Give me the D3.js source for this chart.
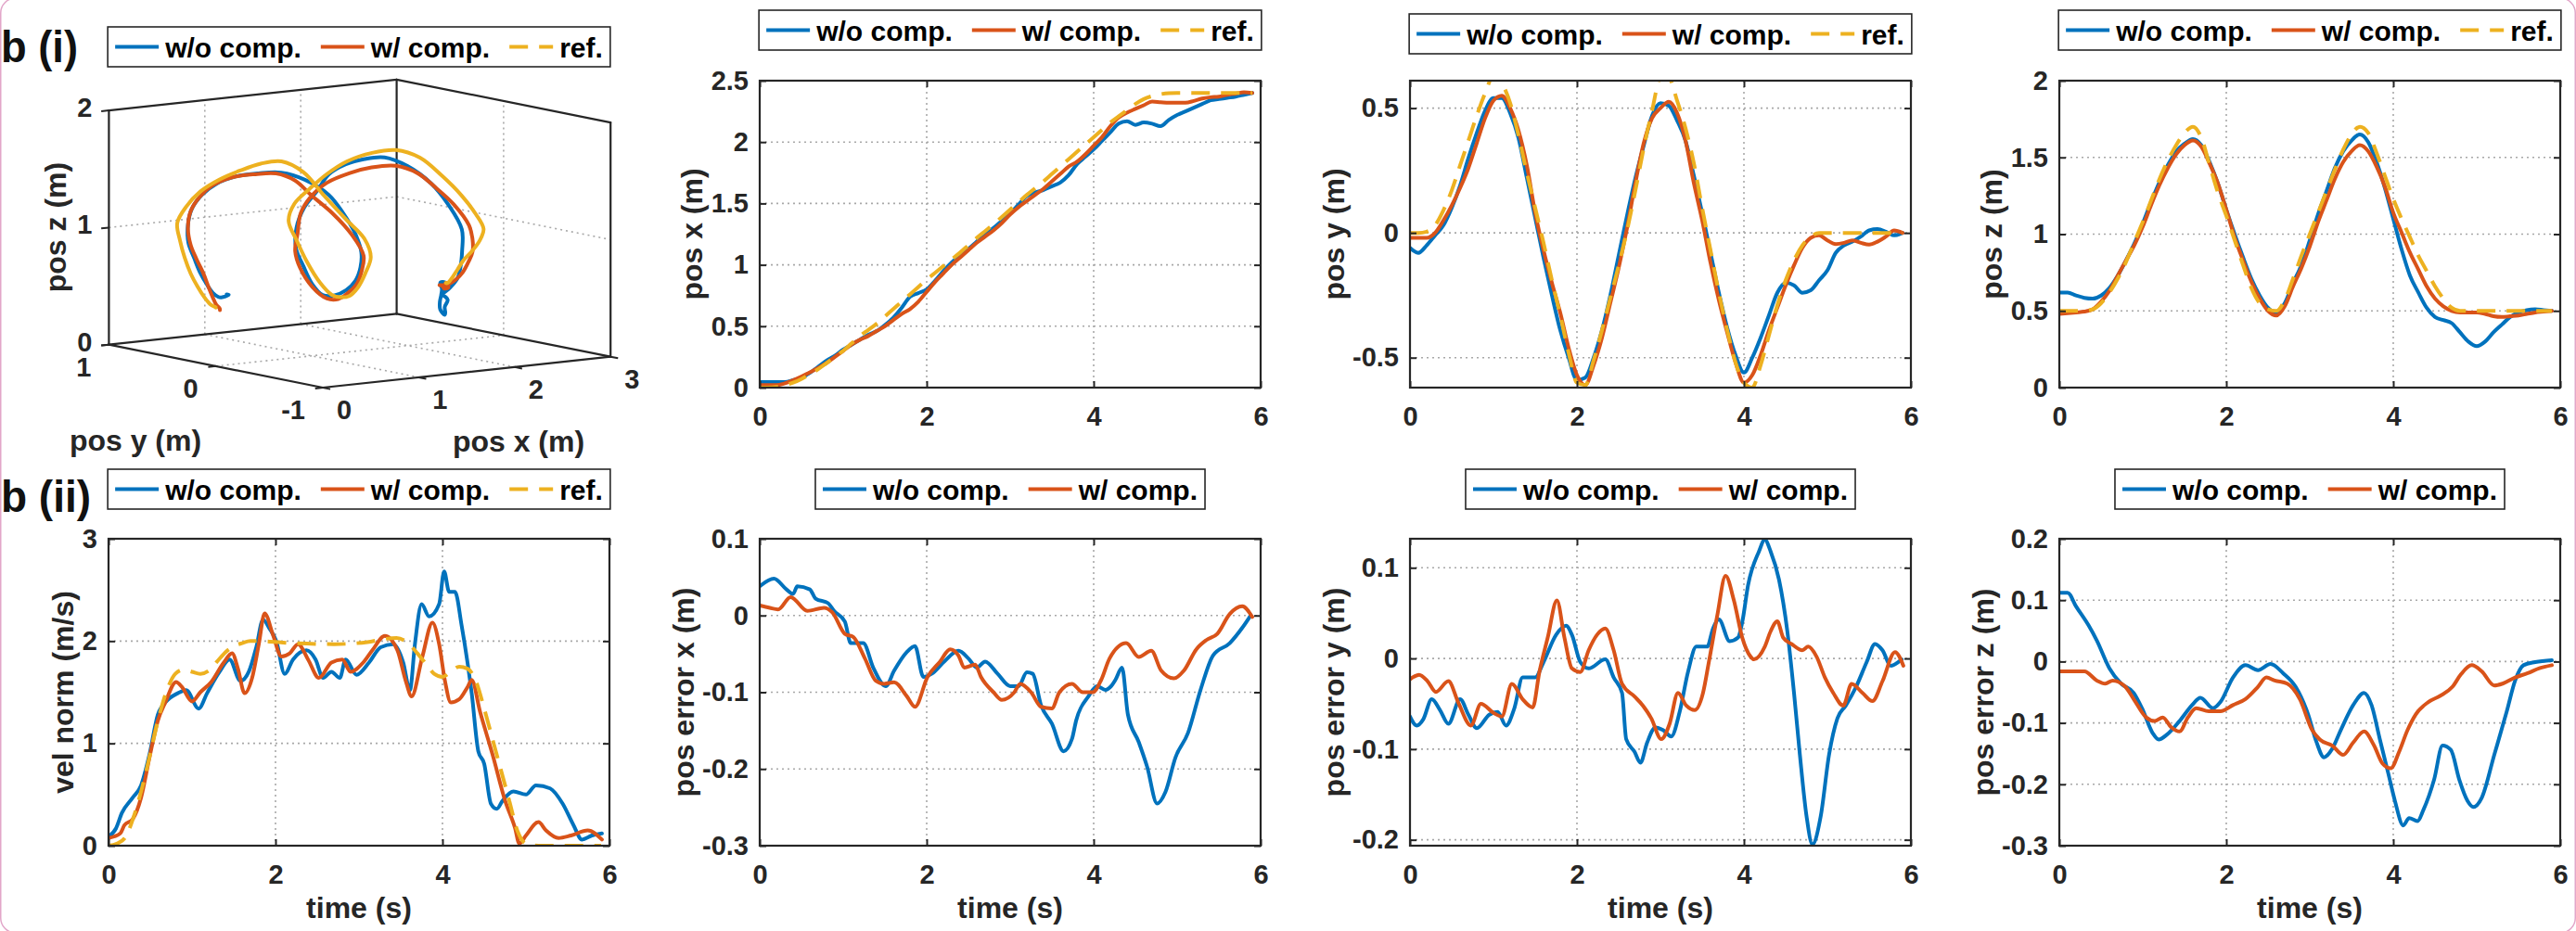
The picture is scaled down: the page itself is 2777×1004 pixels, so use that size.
<!DOCTYPE html>
<html>
<head>
<meta charset="utf-8">
<script src="https://cdn.jsdelivr.net/npm/d3@7"></script>
<style>
  html, body { margin: 0; padding: 0; background: #ffffff; }
  svg { display: block; font-family: "Liberation Sans", Arial, Helvetica, sans-serif; font-weight: bold; }
</style>
</head>
<body>
<svg id="fig" width="2777" height="1004"></svg>
<script>
// ---------- shared time axis ----------
const timeTicks = [0, 2, 4, 6];
const timeTickLabels = ["0", "2", "4", "6"];
const timeGrid = [0,0.1,0.2,0.3,0.4,0.5,0.6,0.7,0.8,0.9,1.0,1.1,1.2,1.3,1.4,1.5,1.6,1.7,1.8,1.9,
  2.0,2.1,2.2,2.3,2.4,2.5,2.6,2.7,2.8,2.9,3.0,3.1,3.2,3.3,3.4,3.5,3.6,3.7,3.8,3.9,
  4.0,4.1,4.2,4.3,4.4,4.5,4.6,4.7,4.8,4.9,5.0,5.1,5.2,5.3,5.4,5.5,5.6,5.7,5.8,5.9];

const seriesNames = ["w/o comp.", "w/ comp.", "ref."];

// ---------- position x (m) ----------
const posXRef = [0,0,0.005,0.02,0.04,0.07,0.11,0.15,0.2,0.25, 0.3,0.36,0.42,0.47,0.52,0.58,0.64,0.7,0.76,0.82,
  0.88,0.935,0.99,1.045,1.1,1.16,1.22,1.275,1.33,1.39, 1.45,1.51,1.57,1.625,1.68,1.74,1.8,1.86,1.92,1.98,
  2.04,2.1,2.16,2.21,2.26,2.31,2.35,2.375,2.39,2.398, 2.4,2.4,2.4,2.4,2.4,2.4,2.4,2.4,2.4,2.4];
const posXComp = [0.02,0.02,0.02,0.035,0.06,0.09,0.125,0.16,0.2,0.25, 0.3,0.35,0.39,0.42,0.46,0.5,0.55,0.6,0.64,0.7,
  0.78,0.86,0.93,1.0,1.06,1.12,1.18,1.23,1.28,1.34, 1.41,1.47,1.52,1.57,1.62,1.68,1.74,1.8,1.84,1.9,
  1.97,2.04,2.13,2.2,2.24,2.27,2.3,2.33,2.325,2.32, 2.32,2.32,2.335,2.355,2.365,2.37,2.385,2.395,2.405,2.4];
const posXNoComp = [0.045,0.045,0.045,0.045,0.06,0.08,0.12,0.17,0.22,0.26, 0.31,0.35,0.39,0.43,0.46,0.51,0.57,0.65,0.74,0.77,
  0.8,0.87,0.95,1.02,1.08,1.13,1.19,1.25,1.3,1.36, 1.42,1.49,1.56,1.59,1.61,1.64,1.67,1.73,1.82,1.88,
  1.94,2.01,2.08,2.15,2.17,2.14,2.16,2.15,2.13,2.18, 2.22,2.25,2.28,2.31,2.34,2.35,2.36,2.37,2.385,2.4];

// ---------- position y (m) ----------
const posYRef = [0,0,0.005,0.03,0.09,0.17,0.27,0.37,0.47,0.56, 0.63,0.6,0.52,0.39,0.24,0.1,-0.04,-0.19,-0.33,-0.48,
  -0.6,-0.61,-0.51,-0.39,-0.26,-0.13,0.01,0.17,0.34,0.49, 0.62,0.62,0.53,0.42,0.28,0.1,-0.07,-0.24,-0.39,-0.52,
  -0.6,-0.62,-0.53,-0.41,-0.29,-0.19,-0.11,-0.05,-0.015,0, 0,0,0,0,0,0,0,0,0,0];
const posYComp = [-0.02,-0.02,-0.02,0.0,0.05,0.11,0.18,0.26,0.36,0.46, 0.53,0.55,0.5,0.41,0.27,0.08,-0.07,-0.2,-0.32,-0.46,
  -0.57,-0.61,-0.53,-0.42,-0.28,-0.14,0.02,0.2,0.36,0.46, 0.5,0.525,0.48,0.37,0.2,0.05,-0.12,-0.27,-0.4,-0.52,
  -0.6,-0.57,-0.49,-0.39,-0.3,-0.21,-0.13,-0.06,-0.02,-0.01, -0.03,-0.045,-0.04,-0.03,-0.04,-0.047,-0.035,-0.015,0.01,0];
const posYNoComp = [-0.06,-0.08,-0.05,-0.01,0.03,0.1,0.19,0.3,0.4,0.49, 0.54,0.54,0.48,0.38,0.22,0.06,-0.1,-0.25,-0.39,-0.5,
  -0.59,-0.58,-0.5,-0.39,-0.25,-0.09,0.07,0.22,0.35,0.47, 0.52,0.51,0.45,0.37,0.23,0.08,-0.08,-0.24,-0.38,-0.49,
  -0.56,-0.5,-0.42,-0.33,-0.24,-0.2,-0.21,-0.24,-0.23,-0.19, -0.15,-0.08,-0.05,-0.035,-0.015,0.01,0.015,0.005,-0.01,0];

// ---------- position z (m) ----------
const posZRef = [0.5,0.5,0.5,0.5,0.51,0.55,0.62,0.71,0.82,0.95, 1.08,1.22,1.36,1.48,1.58,1.66,1.7,1.63,1.45,1.27,
  1.12,0.96,0.8,0.65,0.55,0.51,0.5,0.57,0.71,0.86, 1.0,1.14,1.28,1.42,1.55,1.65,1.7,1.66,1.53,1.38,
  1.23,1.1,0.98,0.86,0.76,0.66,0.58,0.52,0.5,0.5, 0.5,0.5,0.5,0.5,0.5,0.5,0.5,0.5,0.5,0.5];
const posZComp = [0.48,0.485,0.49,0.495,0.51,0.56,0.63,0.73,0.83,0.93, 1.05,1.19,1.32,1.43,1.52,1.58,1.61,1.57,1.46,1.33,
  1.16,0.98,0.83,0.69,0.58,0.5,0.47,0.53,0.66,0.78, 0.92,1.08,1.22,1.36,1.47,1.54,1.58,1.54,1.44,1.31,
  1.14,1.01,0.88,0.77,0.66,0.58,0.53,0.5,0.49,0.49, 0.49,0.48,0.465,0.46,0.465,0.47,0.48,0.49,0.495,0.5];
const posZNoComp = [0.62,0.62,0.6,0.585,0.58,0.6,0.65,0.73,0.83,0.94, 1.07,1.21,1.34,1.45,1.54,1.59,1.62,1.58,1.47,1.33,
  1.16,1.0,0.85,0.71,0.6,0.52,0.49,0.55,0.68,0.8, 0.96,1.13,1.28,1.43,1.54,1.61,1.65,1.6,1.47,1.3,
  1.1,0.9,0.73,0.62,0.52,0.46,0.44,0.42,0.36,0.3, 0.27,0.3,0.36,0.41,0.46,0.49,0.505,0.51,0.505,0.5];

// ---------- velocity norm (m/s): [time, value] ----------
const velRef = [[0,0],[0.1,0.02],[0.2,0.08],[0.3,0.28],[0.4,0.56],[0.5,0.9],[0.6,1.25],[0.7,1.52],[0.8,1.68],[0.9,1.72],
  [1.0,1.7],[1.1,1.68],[1.2,1.71],[1.3,1.8],[1.4,1.89],[1.5,1.95],[1.6,1.98],[1.7,2.0],[1.8,2.0],[2.2,1.98],[2.7,1.97],
  [3.1,1.99],[3.3,2.02],[3.45,2.03],[3.6,1.97],[3.7,1.88],[3.8,1.78],[3.9,1.68],[4.0,1.65],[4.1,1.7],[4.2,1.75],[4.3,1.73],
  [4.4,1.61],[4.5,1.34],[4.6,1.04],[4.7,0.74],[4.8,0.44],[4.9,0.14],[5.0,0.02],[5.15,0],[5.9,0]];
const velComp = [[0,0.075],[0.14,0.12],[0.19,0.2],[0.29,0.26],[0.39,0.47],[0.49,0.86],[0.59,1.22],[0.68,1.4],[0.81,1.6],
  [0.88,1.55],[1.0,1.41],[1.1,1.5],[1.23,1.6],[1.38,1.79],[1.48,1.88],[1.55,1.73],[1.63,1.49],[1.72,1.64],[1.8,1.97],
  [1.87,2.27],[1.97,2.06],[2.07,1.85],[2.17,1.88],[2.27,1.97],[2.39,1.82],[2.52,1.64],[2.67,1.79],[2.8,1.82],[2.9,1.7],
  [3.05,1.79],[3.16,1.91],[3.31,2.05],[3.46,1.91],[3.56,1.61],[3.63,1.46],[3.76,1.85],[3.88,2.18],[3.96,1.97],[4.03,1.61],
  [4.1,1.4],[4.2,1.43],[4.3,1.55],[4.35,1.62],[4.45,1.31],[4.6,0.89],[4.75,0.44],[4.87,0.17],[4.92,0.02],[5.0,0.1],
  [5.15,0.23],[5.24,0.15],[5.39,0.075],[5.54,0.1],[5.74,0.15],[5.91,0.06]];
const velNoComp = [[0,0.09],[0.09,0.17],[0.16,0.32],[0.29,0.47],[0.39,0.59],[0.49,0.89],[0.59,1.28],[0.68,1.4],[0.83,1.49],
  [0.93,1.52],[1.08,1.34],[1.18,1.49],[1.33,1.7],[1.45,1.82],[1.58,1.61],[1.68,1.7],[1.77,1.94],[1.85,2.21],[1.93,2.12],
  [2.01,2.0],[2.11,1.68],[2.21,1.82],[2.37,1.91],[2.48,1.82],[2.57,1.64],[2.67,1.7],[2.77,1.64],[2.84,1.82],[2.97,1.67],
  [3.12,1.79],[3.26,1.94],[3.41,1.97],[3.53,1.79],[3.61,1.52],[3.67,1.97],[3.75,2.36],[3.84,2.24],[3.96,2.36],[4.02,2.68],
  [4.08,2.48],[4.15,2.48],[4.23,2.15],[4.3,1.79],[4.35,1.49],[4.43,0.92],[4.5,0.8],[4.58,0.41],[4.65,0.36],[4.72,0.44],
  [4.85,0.53],[5.0,0.5],[5.12,0.59],[5.29,0.56],[5.44,0.41],[5.57,0.2],[5.67,0.06],[5.79,0.1],[5.91,0.12]];

// ---------- position errors (m): [time, value] ----------
const errXNoComp = [[0,0.038],[0.17,0.048],[0.32,0.034],[0.4,0.028],[0.45,0.038],[0.6,0.034],[0.67,0.022],[0.82,0.016],
  [0.89,0.006],[1.02,-0.008],[1.09,-0.036],[1.24,-0.036],[1.36,-0.068],[1.51,-0.092],[1.61,-0.072],[1.76,-0.048],
  [1.86,-0.04],[1.96,-0.08],[2.06,-0.076],[2.21,-0.06],[2.38,-0.046],[2.5,-0.056],[2.6,-0.068],[2.7,-0.06],[2.85,-0.076],
  [3.0,-0.092],[3.1,-0.092],[3.2,-0.074],[3.27,-0.076],[3.37,-0.117],[3.5,-0.141],[3.64,-0.177],[3.74,-0.161],[3.79,-0.137],
  [3.94,-0.105],[4.04,-0.092],[4.14,-0.097],[4.21,-0.092],[4.26,-0.084],[4.34,-0.068],[4.41,-0.129],[4.54,-0.165],
  [4.64,-0.197],[4.76,-0.245],[4.86,-0.23],[4.98,-0.185],[5.13,-0.153],[5.28,-0.097],[5.43,-0.052],[5.63,-0.036],
  [5.78,-0.016],[5.88,0]];
const errXComp = [[0,0.013],[0.12,0.01],[0.22,0.008],[0.37,0.024],[0.57,0.006],[0.77,0.01],[0.87,0.004],[1.02,-0.024],
  [1.12,-0.028],[1.26,-0.056],[1.39,-0.085],[1.49,-0.089],[1.61,-0.087],[1.76,-0.105],[1.86,-0.119],[2.01,-0.08],
  [2.16,-0.06],[2.28,-0.044],[2.38,-0.052],[2.45,-0.068],[2.58,-0.064],[2.65,-0.08],[2.8,-0.1],[2.9,-0.11],[3.05,-0.1],
  [3.12,-0.089],[3.25,-0.1],[3.37,-0.119],[3.5,-0.121],[3.59,-0.1],[3.74,-0.089],[3.87,-0.1],[3.99,-0.1],[4.09,-0.084],
  [4.19,-0.056],[4.39,-0.036],[4.54,-0.054],[4.69,-0.046],[4.81,-0.072],[4.96,-0.082],[5.08,-0.072],[5.23,-0.044],
  [5.35,-0.032],[5.48,-0.024],[5.63,0.002],[5.78,0.012],[5.9,-0.002]];

const errYNoComp = [[0,-0.064],[0.08,-0.074],[0.16,-0.067],[0.26,-0.045],[0.36,-0.057],[0.46,-0.072],[0.6,-0.045],
  [0.7,-0.062],[0.8,-0.077],[0.95,-0.062],[1.05,-0.059],[1.15,-0.074],[1.25,-0.055],[1.35,-0.021],[1.5,-0.021],
  [1.6,-0.004],[1.75,0.026],[1.87,0.036],[1.94,0.026],[2.04,-0.004],[2.14,-0.011],[2.34,-0.001],[2.44,-0.021],
  [2.54,-0.038],[2.59,-0.089],[2.69,-0.103],[2.76,-0.115],[2.84,-0.093],[2.94,-0.076],[3.03,-0.079],[3.13,-0.086],
  [3.23,-0.059],[3.33,-0.015],[3.43,0.013],[3.56,0.013],[3.63,0.033],[3.7,0.043],[3.83,0.019],[3.93,0.023],[3.98,0.04],
  [4.05,0.081],[4.18,0.118],[4.25,0.131],[4.32,0.118],[4.42,0.087],[4.52,0.03],[4.6,-0.038],[4.67,-0.106],[4.75,-0.174],
  [4.82,-0.205],[4.92,-0.174],[5.02,-0.106],[5.12,-0.066],[5.22,-0.052],[5.34,-0.032],[5.47,-0.004],[5.57,0.016],
  [5.66,0.009],[5.76,-0.008],[5.89,-0.001]];
const errYComp = [[0,-0.023],[0.11,-0.018],[0.21,-0.025],[0.31,-0.037],[0.46,-0.025],[0.58,-0.049],[0.73,-0.074],
  [0.85,-0.05],[1.0,-0.06],[1.1,-0.064],[1.22,-0.028],[1.35,-0.045],[1.47,-0.054],[1.55,-0.015],[1.65,0.023],[1.76,0.064],
  [1.85,0.023],[1.94,-0.011],[2.04,-0.015],[2.14,0.009],[2.24,0.026],[2.34,0.033],[2.44,0.009],[2.54,-0.028],[2.69,-0.042],
  [2.79,-0.052],[2.89,-0.066],[3.01,-0.089],[3.11,-0.072],[3.21,-0.038],[3.31,-0.052],[3.41,-0.057],[3.51,-0.038],
  [3.58,-0.004],[3.68,0.047],[3.78,0.091],[3.88,0.064],[3.98,0.023],[4.08,0.002],[4.12,-0.001],[4.25,0.013],[4.32,0.03],
  [4.4,0.041],[4.47,0.023],[4.57,0.016],[4.7,0.009],[4.77,0.013],[4.87,0.002],[4.97,-0.021],[5.07,-0.038],[5.19,-0.052],
  [5.29,-0.028],[5.42,-0.038],[5.54,-0.047],[5.66,-0.025],[5.81,0.007],[5.91,-0.008]];

const errZNoComp = [[0,0.112],[0.1,0.112],[0.2,0.09],[0.35,0.059],[0.45,0.034],[0.6,-0.011],[0.74,-0.036],[0.89,-0.051],
  [0.99,-0.076],[1.12,-0.117],[1.19,-0.127],[1.29,-0.119],[1.44,-0.097],[1.59,-0.071],[1.69,-0.059],[1.84,-0.076],
  [1.93,-0.066],[2.08,-0.026],[2.23,-0.006],[2.38,-0.014],[2.53,-0.004],[2.68,-0.019],[2.83,-0.041],[2.98,-0.086],
  [3.08,-0.131],[3.17,-0.156],[3.27,-0.142],[3.37,-0.112],[3.52,-0.071],[3.65,-0.051],[3.74,-0.071],[3.84,-0.127],
  [3.94,-0.182],[4.02,-0.227],[4.12,-0.267],[4.19,-0.255],[4.29,-0.26],[4.36,-0.242],[4.49,-0.192],[4.59,-0.137],
  [4.69,-0.144],[4.79,-0.192],[4.89,-0.227],[4.96,-0.237],[5.06,-0.222],[5.21,-0.152],[5.36,-0.081],[5.46,-0.031],
  [5.56,-0.006],[5.7,-0.001],[5.9,0.002]];
const errZComp = [[0,-0.016],[0.15,-0.016],[0.3,-0.016],[0.45,-0.031],[0.55,-0.036],[0.64,-0.031],[0.79,-0.041],
  [0.89,-0.061],[1.04,-0.091],[1.14,-0.097],[1.24,-0.091],[1.34,-0.107],[1.44,-0.114],[1.54,-0.091],[1.64,-0.076],
  [1.79,-0.081],[1.93,-0.081],[2.08,-0.071],[2.23,-0.061],[2.38,-0.041],[2.48,-0.026],[2.58,-0.031],[2.73,-0.036],
  [2.88,-0.061],[3.03,-0.112],[3.12,-0.127],[3.27,-0.137],[3.4,-0.152],[3.52,-0.132],[3.65,-0.114],[3.77,-0.137],
  [3.87,-0.166],[3.97,-0.174],[4.07,-0.147],[4.17,-0.112],[4.27,-0.086],[4.42,-0.066],[4.56,-0.056],[4.71,-0.041],
  [4.81,-0.021],[4.94,-0.006],[5.06,-0.016],[5.21,-0.039],[5.31,-0.036],[5.46,-0.026],[5.61,-0.019],[5.75,-0.011],
  [5.9,-0.006]];

// ---------- 3-D axis ticks ----------
const ticks3X = [0, 1, 2, 3];
const ticks3Y = [1, 0, -1];
const ticks3Z = [0, 1, 2];

// ---------- styling ----------
const COLORS = { noComp: "#0072BD", comp: "#D95319", ref: "#EDB120" };
const AXIS_COLOR = "#262626";
const LINE_W = 4;
const DASH = "20,12";
const F_TICK = 29, F_LABEL = 32, F_LEG = 30, F_PANEL = 48;

const svg = d3.select("#fig");
const zipGrid = arr => timeGrid.map((t, i) => [t, arr[i]]);

// thin rounded frame around the figure
svg.append("rect").attr("x", 0.75).attr("y", -2).attr("width", 2775.5).attr("height", 1008)
  .attr("rx", 16).attr("fill", "none").attr("stroke", "#e2a6c9").attr("stroke-width", 1.5);

// ---------- legend ----------
function drawLegend(cx, top, items) {
  const g = svg.append("g");
  const h = 43, padL = 8, lineLen = 47, gapText = 7, gapItem = 21, padR = 8;
  const box = g.append("rect");
  const texts = items.map(it => g.append("text")
      .attr("font-size", F_LEG).attr("fill", "#000").text(it.label));
  const widths = texts.map(t => t.node().getComputedTextLength());
  const total = padL + padR + d3.sum(widths) + items.length * (lineLen + gapText) + gapItem * (items.length - 1);
  const x0 = cx - total / 2;
  box.attr("x", x0).attr("y", top).attr("width", total).attr("height", h)
     .attr("fill", "#fff").attr("stroke", AXIS_COLOR).attr("stroke-width", 1.6);
  let x = x0 + padL;
  const cy = top + h / 2;
  items.forEach((it, i) => {
    g.append("line").attr("x1", x).attr("x2", x + lineLen).attr("y1", cy).attr("y2", cy)
      .attr("stroke", it.color).attr("stroke-width", LINE_W)
      .attr("stroke-dasharray", it.dashed ? DASH : null);
    x += lineLen + gapText;
    texts[i].attr("x", x).attr("y", cy + 11);
    x += widths[i] + gapItem;
  });
}

// ---------- 2-D time panel ----------
let clipCount = 0;
function drawPanel(cfg) {
  const w = 540, h = 331;
  const { left, top } = cfg;
  const x = d3.scaleLinear().domain([0, 6]).range([left, left + w]);
  const y = d3.scaleLinear().domain(cfg.yDomain).range([top + h, top]);
  const g = svg.append("g");

  // dotted grid at interior ticks
  const eps = 1e-9;
  const gx = timeTicks.filter(v => v > eps && v < 6 - eps);
  const gy = cfg.yTicks.filter(v => v > cfg.yDomain[0] + eps && v < cfg.yDomain[1] - eps);
  g.selectAll(null).data(gx).join("line")
    .attr("x1", d => x(d)).attr("x2", d => x(d)).attr("y1", top).attr("y2", top + h)
    .attr("stroke", "#a8a8a8").attr("stroke-width", 1.6).attr("stroke-dasharray", "2,4");
  g.selectAll(null).data(gy).join("line")
    .attr("y1", d => y(d)).attr("y2", d => y(d)).attr("x1", left).attr("x2", left + w)
    .attr("stroke", "#a8a8a8").attr("stroke-width", 1.6).attr("stroke-dasharray", "2,4");

  // data
  const id = "clip" + (clipCount++);
  svg.append("clipPath").attr("id", id).append("rect")
    .attr("x", left).attr("y", top).attr("width", w).attr("height", h);
  const line = d3.line().curve(d3.curveMonotoneX).x(d => x(d[0])).y(d => y(d[1]));
  cfg.series.forEach(s => {
    g.append("path").datum(s.data).attr("clip-path", `url(#${id})`)
      .attr("d", line).attr("fill", "none").attr("stroke", s.color)
      .attr("stroke-width", LINE_W).attr("stroke-linejoin", "round")
      .attr("stroke-linecap", s.dashed ? "butt" : "round")
      .attr("stroke-dasharray", s.dashed ? DASH : null);
  });

  // axes with inward ticks on all four sides
  const tick = 7;
  const styleAxis = sel => {
    sel.select(".domain").remove();
    sel.attr("font-size", F_TICK).attr("font-family", null).attr("color", AXIS_COLOR);
    sel.selectAll(".tick line").attr("stroke-width", 2);
    sel.selectAll("text").attr("fill", AXIS_COLOR);
  };
  g.append("g").attr("transform", `translate(0,${top + h})`)
    .call(d3.axisBottom(x).tickValues(timeTicks).tickFormat((d, i) => timeTickLabels[i]).tickSize(-tick).tickPadding(20))
    .call(styleAxis);
  g.append("g").attr("transform", `translate(0,${top})`)
    .call(d3.axisTop(x).tickValues(timeTicks).tickFormat("").tickSize(-tick)).call(styleAxis);
  const yAxis = g.append("g").attr("transform", `translate(${left},0)`)
    .call(d3.axisLeft(y).tickValues(cfg.yTicks).tickFormat((d, i) => cfg.yTickLabels[i]).tickSize(-tick).tickPadding(12))
    .call(styleAxis);
  g.append("g").attr("transform", `translate(${left + w},0)`)
    .call(d3.axisRight(y).tickValues(cfg.yTicks).tickFormat("").tickSize(-tick)).call(styleAxis);

  // box
  g.append("rect").attr("x", left).attr("y", top).attr("width", w).attr("height", h)
    .attr("fill", "none").attr("stroke", AXIS_COLOR).attr("stroke-width", 2.2);

  // axis labels
  let maxW = 0;
  yAxis.selectAll("text").each(function () { maxW = Math.max(maxW, this.getBBox().width); });
  const lx = left - 12 - maxW - 19;
  g.append("text").attr("transform", `translate(${lx},${top + h / 2}) rotate(-90)`)
    .attr("text-anchor", "middle").attr("dy", "0.3em").attr("font-size", F_LABEL)
    .attr("fill", AXIS_COLOR).text(cfg.ylabel);
  if (cfg.xlabel) {
    g.append("text").attr("x", left + w / 2).attr("y", top + h + 78)
      .attr("text-anchor", "middle").attr("font-size", F_LABEL).attr("fill", AXIS_COLOR).text(cfg.xlabel);
  }
  drawLegend(left + w / 2, cfg.legendTop, cfg.series.map(s => ({ label: s.label, color: s.color, dashed: s.dashed })));
}

const S = (label, color, data, dashed) => ({ label, color, data, dashed: !!dashed });

// ---------- 3-D trajectory panel ----------
function draw3D() {
  const g = svg.append("g");
  // oblique projection of the (x, y, z) box: origin at x=0, y=1, z=0
  const origin = [117.4, 371.7];
  const ux = d3.scaleLinear().domain([0, 3]).range([0, 3]);
  const ex = [103.4, -11.1], ey = [-115.3, -23.15], ez = [0, -126.3];
  const P = (px, py, pz) => {
    const a = ux(px), b = py - 1, c = pz;
    return [origin[0] + ex[0] * a + ey[0] * b + ez[0] * c,
            origin[1] + ex[1] * a + ey[1] * b + ez[1] * c];
  };
  const seg = (p, q, attrs) => {
    const A = P(...p), B = P(...q);
    const l = g.append("line").attr("x1", A[0]).attr("y1", A[1]).attr("x2", B[0]).attr("y2", B[1]);
    Object.entries(attrs).forEach(([k, v]) => l.attr(k, v));
    return l;
  };
  const grid = { stroke: "#a8a8a8", "stroke-width": 1.6, "stroke-dasharray": "2,4" };
  const edge = { stroke: AXIS_COLOR, "stroke-width": 2.2, "stroke-linecap": "round" };

  // grid on the back walls and floor
  [1, 2].forEach(v => { seg([v, 1, 0], [v, 1, 2], grid); seg([v, 1, 0], [v, -1, 0], grid); });
  seg([0, 1, 1], [3, 1, 1], grid);
  seg([3, 1, 1], [3, -1, 1], grid);
  seg([3, 0, 0], [3, 0, 2], grid);
  seg([0, 0, 0], [3, 0, 0], grid);

  // box edges
  [[[0,1,0],[0,1,2]], [[0,1,2],[3,1,2]], [[3,1,2],[3,-1,2]], [[3,-1,2],[3,-1,0]],
   [[3,1,0],[3,1,2]], [[0,1,0],[3,1,0]], [[3,1,0],[3,-1,0]], [[0,1,0],[0,-1,0]], [[0,-1,0],[3,-1,0]]]
    .forEach(([p, q]) => seg(p, q, edge));

  // tick marks
  const tk = { stroke: AXIS_COLOR, "stroke-width": 2 };
  ticks3Z.forEach(v => seg([0, 1, v], [-0.08, 1, v], tk));
  ticks3Y.forEach(v => seg([0, v, 0], [-0.08, v, 0], tk));
  ticks3X.forEach(v => seg([v, -1, 0], [v, -1.07, 0], tk));

  // trajectories
  const line3 = d3.line().curve(d3.curveCatmullRom)
    .x(d => P(d[0], d[1], d[2])[0]).y(d => P(d[0], d[1], d[2])[1]);
  const traj = [
    { c: COLORS.noComp, x: posXNoComp, y: posYNoComp, z: posZNoComp },
    { c: COLORS.comp, x: posXComp, y: posYComp, z: posZComp },
    { c: COLORS.ref, x: posXRef, y: posYRef, z: posZRef }
  ];
  traj.forEach(s => {
    g.append("path").datum(s.x.map((v, i) => [v, s.y[i], s.z[i]]))
      .attr("d", line3).attr("fill", "none").attr("stroke", s.c)
      .attr("stroke-width", LINE_W).attr("stroke-linejoin", "round").attr("stroke-linecap", "round");
  });

  // tick labels
  const lab = (p, dx, dy, txt, anchor) => {
    const A = P(...p);
    g.append("text").attr("x", A[0] + dx).attr("y", A[1] + dy).attr("text-anchor", anchor)
      .attr("font-size", F_TICK).attr("fill", AXIS_COLOR).text(txt);
  };
  ticks3Z.forEach(v => lab([0, 1, v], -18, 7, String(v), "end"));
  ticks3Y.forEach(v => lab([0, v, 0], -19, 34, String(v), "end"));
  ticks3X.forEach(v => lab([v, -1, 0], 23, 34, String(v), "middle"));

  // axis labels
  g.append("text").attr("x", 146).attr("y", 486).attr("text-anchor", "middle")
    .attr("font-size", F_LABEL).attr("fill", AXIS_COLOR).text("pos y (m)");
  g.append("text").attr("x", 559).attr("y", 487).attr("text-anchor", "middle")
    .attr("font-size", F_LABEL).attr("fill", AXIS_COLOR).text("pos x (m)");
  g.append("text").attr("transform", "translate(61,245) rotate(-90)").attr("text-anchor", "middle")
    .attr("dy", "0.3em").attr("font-size", F_LABEL).attr("fill", AXIS_COLOR).text("pos z (m)");

  drawLegend(387, 29, [
    { label: seriesNames[0], color: COLORS.noComp },
    { label: seriesNames[1], color: COLORS.comp },
    { label: seriesNames[2], color: COLORS.ref, dashed: true }
  ]);
}

// ---------- layout ----------
const ROW1 = 87, ROW2 = 581;
const COLS = [117, 819, 1520, 2220];

draw3D();

drawPanel({ left: COLS[1], top: ROW1, legendTop: 11, yDomain: [0, 2.5],
  yTicks: [0, 0.5, 1, 1.5, 2, 2.5], yTickLabels: ["0", "0.5", "1", "1.5", "2", "2.5"], ylabel: "pos x (m)",
  series: [S(seriesNames[0], COLORS.noComp, zipGrid(posXNoComp)), S(seriesNames[1], COLORS.comp, zipGrid(posXComp)),
           S(seriesNames[2], COLORS.ref, zipGrid(posXRef), true)] });

drawPanel({ left: COLS[2], top: ROW1, legendTop: 15, yDomain: [-0.62, 0.61],
  yTicks: [-0.5, 0, 0.5], yTickLabels: ["-0.5", "0", "0.5"], ylabel: "pos y (m)",
  series: [S(seriesNames[0], COLORS.noComp, zipGrid(posYNoComp)), S(seriesNames[1], COLORS.comp, zipGrid(posYComp)),
           S(seriesNames[2], COLORS.ref, zipGrid(posYRef), true)] });

drawPanel({ left: COLS[3], top: ROW1, legendTop: 11, yDomain: [0, 2],
  yTicks: [0, 0.5, 1, 1.5, 2], yTickLabels: ["0", "0.5", "1", "1.5", "2"], ylabel: "pos z (m)",
  series: [S(seriesNames[0], COLORS.noComp, zipGrid(posZNoComp)), S(seriesNames[1], COLORS.comp, zipGrid(posZComp)),
           S(seriesNames[2], COLORS.ref, zipGrid(posZRef), true)] });

drawPanel({ left: COLS[0], top: ROW2, legendTop: 506, yDomain: [0, 3],
  yTicks: [0, 1, 2, 3], yTickLabels: ["0", "1", "2", "3"], ylabel: "vel norm (m/s)", xlabel: "time (s)",
  series: [S(seriesNames[0], COLORS.noComp, velNoComp), S(seriesNames[1], COLORS.comp, velComp),
           S(seriesNames[2], COLORS.ref, velRef, true)] });

drawPanel({ left: COLS[1], top: ROW2, legendTop: 506, yDomain: [-0.3, 0.1],
  yTicks: [-0.3, -0.2, -0.1, 0, 0.1], yTickLabels: ["-0.3", "-0.2", "-0.1", "0", "0.1"], ylabel: "pos error x (m)",
  xlabel: "time (s)",
  series: [S(seriesNames[0], COLORS.noComp, errXNoComp), S(seriesNames[1], COLORS.comp, errXComp)] });

drawPanel({ left: COLS[2], top: ROW2, legendTop: 506, yDomain: [-0.2065, 0.132],
  yTicks: [-0.2, -0.1, 0, 0.1], yTickLabels: ["-0.2", "-0.1", "0", "0.1"], ylabel: "pos error y (m)",
  xlabel: "time (s)",
  series: [S(seriesNames[0], COLORS.noComp, errYNoComp), S(seriesNames[1], COLORS.comp, errYComp)] });

drawPanel({ left: COLS[3], top: ROW2, legendTop: 506, yDomain: [-0.3, 0.2],
  yTicks: [-0.3, -0.2, -0.1, 0, 0.1, 0.2], yTickLabels: ["-0.3", "-0.2", "-0.1", "0", "0.1", "0.2"],
  ylabel: "pos error z (m)", xlabel: "time (s)",
  series: [S(seriesNames[0], COLORS.noComp, errZNoComp), S(seriesNames[1], COLORS.comp, errZComp)] });

// ---------- panel tags ----------
svg.append("text").attr("x", 1).attr("y", 67).attr("font-size", F_PANEL).attr("fill", "#111")
  .attr("textLength", 83).attr("lengthAdjust", "spacingAndGlyphs").text("b (i)");
svg.append("text").attr("x", 1).attr("y", 552).attr("font-size", F_PANEL).attr("fill", "#111")
  .attr("textLength", 97).attr("lengthAdjust", "spacingAndGlyphs").text("b (ii)");
</script>
</body>
</html>
